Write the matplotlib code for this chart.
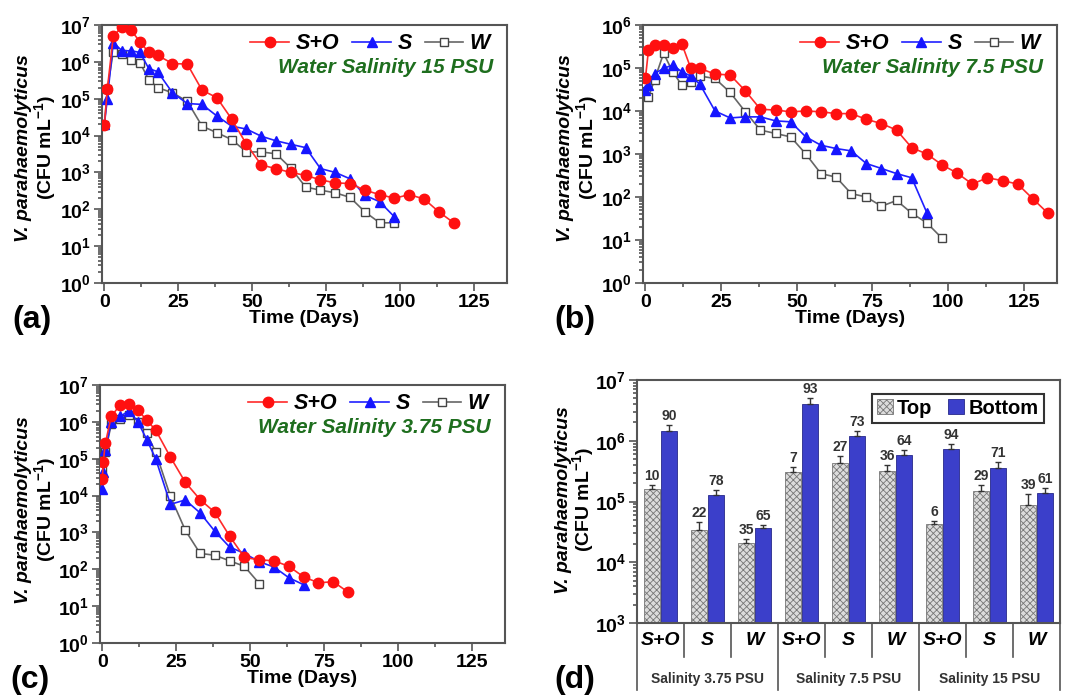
import matplotlib
matplotlib.use("Agg")
import matplotlib.pyplot as plt
import numpy as np
from matplotlib.ticker import LogLocator, MultipleLocator, NullFormatter

plt.rcParams['font.family'] = ['Liberation Sans', 'DejaVu Sans']
plt.rcParams['font.weight'] = 'bold'
plt.rcParams['mathtext.fontset'] = 'custom'
plt.rcParams['mathtext.rm'] = 'Liberation Sans:bold'
plt.rcParams['mathtext.bf'] = 'Liberation Sans:bold'
plt.rcParams['mathtext.it'] = 'Liberation Sans:bold:italic'
plt.rcParams['hatch.linewidth'] = 0.6

# ---- panel (a): 15 PSU ----
a_days_so = [0, 1, 3, 6, 9, 12, 15, 18, 23, 28, 33, 38, 43, 48, 53, 58, 63, 68, 73, 78,
             83, 88, 93, 98, 103, 108, 113, 118]
a_so = [1.9e4, 1.8e5, 5e6, 9e6, 7.3e6, 3.5e6, 1.8e6, 1.5e6, 9e5, 8.7e5, 1.7e5, 1.07e5,
        2.8e4, 5.8e3, 1.6e3, 1.26e3, 1e3, 830, 630, 520, 500, 330, 250, 200, 250, 190, 85, 43]
a_days_sw = [0, 1, 3, 6, 9, 12, 15, 18, 23, 28, 33, 38, 43, 48, 53, 58, 63, 68, 73, 78,
             83, 88, 93, 98]
a_s = [2e4, 1e5, 3.3e6, 2e6, 2e6, 1.8e6, 6.6e5, 5.4e5, 1.45e5, 7.4e4, 7e4, 3.4e4, 1.8e4,
       1.5e4, 9.6e3, 7.2e3, 5.8e3, 4.7e3, 1.27e3, 1e3, 670, 240, 160, 62]
a_w = [1.9e4, 1.8e5, 1.9e6, 1.6e6, 1.1e6, 9.5e5, 3.3e5, 2e5, 1.45e5, 8.5e4, 1.8e4, 1.2e4,
       7.8e3, 3.6e3, 3.6e3, 3.2e3, 1.3e3, 400, 330, 280, 210, 85, 43, 43]

# ---- panel (b): 7.5 PSU ----
b_days_so = [0, 1, 3, 6, 9, 12, 15, 18] + list(range(23, 134, 5))
b_so = [5.7e4, 2.6e5, 3.5e5, 3.5e5, 2.9e5, 3.7e5, 9.8e4, 9.8e4, 7.2e4, 6.9e4, 2.95e4,
        1.1e4, 1.05e4, 9.6e3, 1e4, 9.6e3, 8.7e3, 8.7e3, 6.4e3, 5.1e3, 3.6e3, 1.4e3, 1e3,
        560, 360, 200, 280, 240, 200, 91, 42]
b_days_s = [0, 1, 3, 6, 9, 12, 15, 18] + list(range(23, 94, 5))
b_s = [3.1e4, 4e4, 7.4e4, 9.8e4, 1.17e5, 8.2e4, 6.5e4, 4.2e4, 1e4, 6.9e3, 7.3e3, 7.3e3,
       5.9e3, 5.6e3, 2.5e3, 1.6e3, 1.34e3, 1.18e3, 600, 460, 350, 280, 43]
b_days_w = [0, 1, 3, 6, 9, 12, 15, 18] + list(range(23, 99, 5))
b_w = [4.5e4, 2.1e4, 5.3e4, 2.2e5, 8.2e4, 4e4, 4.8e4, 6.5e4, 5.7e4, 2.7e4, 9.6e3, 3.6e3,
       3e3, 2.5e3, 1e3, 350, 290, 120, 100, 61, 83, 42, 25, 11]

# ---- panel (c): 3.75 PSU ----
c_days_so = [0, 0.3, 1, 3, 6, 9, 12, 15, 18, 23, 28, 33, 38, 43, 48, 53, 58, 63, 68, 73, 78, 83]
c_so = [2.9e4, 8.3e4, 2.6e5, 1.4e6, 2.9e6, 3e6, 2.1e6, 1.1e6, 6e5, 1.1e5, 2.3e4, 7.8e3,
        3.5e3, 790, 210, 180, 170, 120, 62, 43, 46, 24]
c_days_s = [0, 0.3, 1, 3, 6, 9, 12, 15, 18, 23, 28, 33, 38, 43, 48, 53, 58, 63, 68]
c_s = [1.5e4, 4.4e4, 1.7e5, 1e6, 1.4e6, 2e6, 1e6, 3.3e5, 1e5, 5.8e3, 7.6e3, 3.4e3, 1.07e3,
       400, 270, 160, 115, 59, 38]
c_days_w = [0, 1, 3, 6, 9, 12, 15, 18, 23, 28, 33, 38, 43, 48, 53]
c_w = [4.9e4, 1.5e5, 8.7e5, 1.2e6, 1.5e6, 1e6, 4.9e5, 1.5e5, 9.5e3, 1.15e3, 270, 240,
       170, 120, 41]

# ---- panel (d): top vs bottom ----
treatments = ['S+O', 'S', 'W'] * 3
salinities = ['Salinity 3.75 PSU', 'Salinity 7.5 PSU', 'Salinity 15 PSU']
top_vals = [1.6e5, 3.4e4, 2.1e4, 3.1e5, 4.3e5, 3.2e5, 4.3e4, 1.5e5, 8.7e4]
top_err = [3e4, 1.2e4, 2.8e3, 5.6e4, 1.25e5, 7.5e4, 5.5e3, 4e4, 4.8e4]
bot_vals = [1.46e6, 1.27e5, 3.7e4, 4.1e6, 1.2e6, 5.8e5, 7.4e5, 3.5e5, 1.36e5]
bot_err = [3.5e5, 3e4, 3.8e3, 1e6, 2.5e5, 1.2e5, 1.3e5, 1e5, 2.8e4]
top_pct = ['10', '22', '35', '7', '27', '36', '6', '29', '39']
bot_pct = ['90', '78', '65', '93', '73', '64', '94', '71', '61']

fig = plt.figure(figsize=(10.68, 6.99), dpi=100)
W, H = 1068, 699
GRAY = '#555555'


def px_rect(x0, y0, x1, y1):
    return [x0 / W, 1 - y1 / H, (x1 - x0) / W, (y1 - y0) / H]


def style(ax):
    for s in ax.spines.values():
        s.set_color(GRAY)
        s.set_linewidth(1.5)
    ax.tick_params(which='both', colors=GRAY, labelcolor='black', labelsize=14,
                   direction='out', width=1.2)
    ax.tick_params(which='major', length=6, pad=2)
    ax.tick_params(which='minor', length=3)
    ax.set_yscale('log')
    ax.yaxis.set_major_locator(LogLocator(base=10, numticks=12))
    ax.yaxis.set_minor_locator(LogLocator(base=10, subs=np.arange(2, 10), numticks=12))
    ax.yaxis.set_minor_formatter(NullFormatter())


def ylab(xa, xb, yc):
    fig.text(xa / W, 1 - yc / H, 'V. parahaemolyticus', rotation=90, ha='center',
             va='center', fontsize=14, fontstyle='italic', fontweight='bold')
    fig.text(xb / W, 1 - yc / H, r'(CFU mL$^{-1}$)', rotation=90, ha='center',
             va='center', fontsize=14, fontweight='bold')


def line_panel(rect, dso, so, ds, s, dw, w, top, title, ty):
    ax = fig.add_axes(rect)
    style(ax)
    h3, = ax.plot(dw, w, '-s', color='#666666', mfc='white', mec='#444444', ms=6,
                  lw=1.2, zorder=3, label='W')
    h2, = ax.plot(ds, s, '-^', color='#2020ff', mfc='#1515ff', mec='#1515ff', ms=7,
                  lw=1.2, zorder=4, label='S')
    h1, = ax.plot(dso, so, '-o', color='#ff2a2a', mfc='#ff1010', mec='#ff1010', ms=7.5,
                  lw=1.2, zorder=5, label='S+O')
    ax.set_xlim(-0.8, 136)
    ax.set_ylim(1, top)
    ax.set_xticks([0, 25, 50, 75, 100, 125])
    ax.xaxis.set_minor_locator(MultipleLocator(12.5))
    ax.set_xlabel('Time (Days)', fontsize=14, fontweight='bold', labelpad=-1)
    ax.legend(handles=[h1, h2, h3], loc='upper right', ncol=3, frameon=False,
              prop={'weight': 'bold', 'style': 'italic', 'size': 15.5},
              handlelength=1.8, handletextpad=0.3, columnspacing=0.6,
              borderaxespad=0.1, bbox_to_anchor=(0.985, 1.01))
    ax.text(0.965, ty, title, transform=ax.transAxes, ha='right', va='center',
            fontsize=15, fontweight='bold', fontstyle='italic', color='#1e6e1e')
    return ax


line_panel(px_rect(102, 25, 507, 283), a_days_so, a_so, a_days_sw, a_s, a_days_sw, a_w,
           1e7, 'Water Salinity 15 PSU', 0.835)
ylab(24, 45, 148)
fig.text(32 / W, 1 - 320 / H, '(a)', fontsize=23, fontweight='bold', ha='center', va='center')

line_panel(px_rect(643, 25, 1057, 283), b_days_so, b_so, b_days_s, b_s, b_days_w, b_w,
           1e6, 'Water Salinity 7.5 PSU', 0.835)
ylab(566, 587, 148)
fig.text(575 / W, 1 - 320 / H, '(b)', fontsize=23, fontweight='bold', ha='center', va='center')

line_panel(px_rect(100, 385, 505, 643), c_days_so, c_so, c_days_s, c_s, c_days_w, c_w,
           1e7, 'Water Salinity 3.75 PSU', 0.835)
ylab(24, 45, 510)
fig.text(30 / W, 1 - 680 / H, '(c)', fontsize=23, fontweight='bold', ha='center', va='center')

# ---- panel (d) ----
ax = fig.add_axes(px_rect(637, 380, 1060, 623))
style(ax)
x = np.arange(len(treatments))
off, bw = 0.18, 0.35
ax.bar(x - off, top_vals, bw, color='#dcdcdc', edgecolor='#777777', hatch='xxxxx',
       lw=0.6, label='Top', zorder=2)
ax.bar(x + off, bot_vals, bw, color='#3b3fca', edgecolor='#26288a', lw=0.6,
       label='Bottom', zorder=2)
ax.errorbar(x - off, top_vals, yerr=[np.zeros(9), top_err], fmt='none', ecolor='#333333',
            capsize=2.5, elinewidth=1, zorder=3)
ax.errorbar(x + off, bot_vals, yerr=[np.zeros(9), bot_err], fmt='none', ecolor='#333333',
            capsize=2.5, elinewidth=1, zorder=3)
for i in range(len(x)):
    ax.text(x[i] - off, (top_vals[i] + top_err[i]) * 1.08, top_pct[i], ha='center',
            va='bottom', fontsize=10, fontweight='bold', color='#333333')
    ax.text(x[i] + off, (bot_vals[i] + bot_err[i]) * 1.08, bot_pct[i], ha='center',
            va='bottom', fontsize=10, fontweight='bold', color='#333333')
ax.set_xlim(-0.5, 8.5)
ax.set_ylim(1e3, 1e7)
ax.set_xticks([])
ax.legend(loc='upper right', ncol=2, fontsize=14.5, handlelength=0.8, handleheight=0.8,
          handletextpad=0.2, columnspacing=0.8, borderpad=0.25, fancybox=False,
          edgecolor='#333333', bbox_to_anchor=(0.985, 0.985), framealpha=1)
ax.get_legend().get_frame().set_linewidth(1.5)

tr = ax.get_xaxis_transform()
for b in np.arange(-0.5, 9, 1):
    long_line = abs((b + 0.5) % 3) < 1e-9
    ax.plot([b, b], [0, -0.276 if long_line else -0.14], transform=tr, color=GRAY,
            lw=1.2, clip_on=False)
for i, t in enumerate(treatments):
    ax.text(x[i], -0.074, t, transform=tr, ha='center', va='center', fontsize=14,
            fontweight='bold', fontstyle='italic')
for j, sname in enumerate(salinities):
    ax.text(3 * j + 1, -0.23, sname, transform=tr, ha='center', va='center',
            fontsize=10, fontweight='bold', color='#333333')
ylab(563, 583, 500)
fig.text(575 / W, 1 - 680 / H, '(d)', fontsize=23, fontweight='bold', ha='center', va='center')

fig.savefig('out.png', dpi=100)
